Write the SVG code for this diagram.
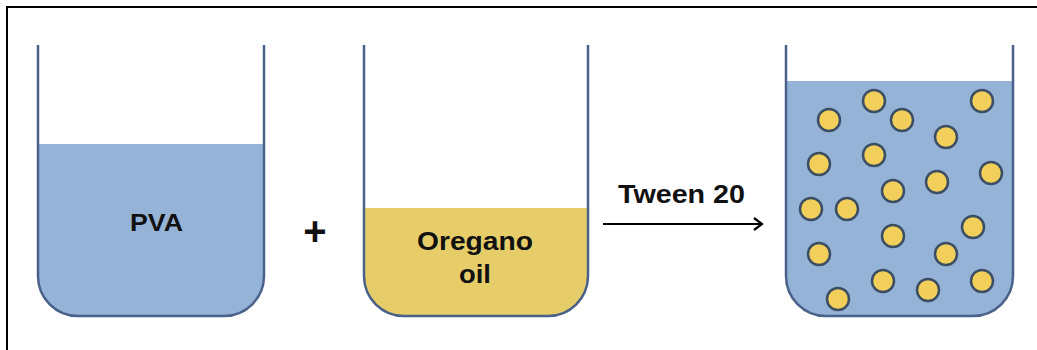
<svg xmlns="http://www.w3.org/2000/svg" width="1037" height="350" viewBox="0 0 1037 350">
<defs>
<style>
.wall{fill:none;stroke:#4a6189;stroke-width:2.5}
.blue{fill:#95b3d7}
.oil{fill:#e6cd6a}
.lbl{font-family:"Liberation Sans",Arial,sans-serif;font-weight:bold;fill:#111}
.drop{fill:#f2cf5b;stroke:#3b4e63;stroke-width:2.5}
</style>
<marker id="arr" viewBox="0 0 12 14" refX="10" refY="7" markerWidth="12" markerHeight="14" markerUnits="userSpaceOnUse" orient="auto">
<path d="M2,1 L10,7 L2,13" fill="none" stroke="#000" stroke-width="2.2"/>
</marker>
</defs>
<rect width="1037" height="350" fill="#fff"/>
<path d="M7,350 V7 H1037" fill="none" stroke="#000" stroke-width="2"/>

<g id="beaker-pva">
<path class="blue" d="M38,144 H264 V276 A40,40 0 0 1 224,316 H78 A40,40 0 0 1 38,276 Z"/>
<path class="wall" d="M38,45 V276 A40,40 0 0 0 78,316 H224 A40,40 0 0 0 264,276 V45"/>
<text class="lbl" x="130" y="231" font-size="24" textLength="53" lengthAdjust="spacingAndGlyphs">PVA</text>
</g>

<g id="plus">
<text class="lbl" x="315" y="245" font-size="40" text-anchor="middle">+</text>
</g>

<g id="beaker-oil">
<path class="oil" d="M364,208 H588 V276 A40,40 0 0 1 548,316 H404 A40,40 0 0 1 364,276 Z"/>
<path class="wall" d="M364,45 V276 A40,40 0 0 0 404,316 H548 A40,40 0 0 0 588,276 V45"/>
<text class="lbl" x="417" y="250" font-size="25" textLength="116" lengthAdjust="spacingAndGlyphs">Oregano</text>
<text class="lbl" x="459" y="283" font-size="25" textLength="32" lengthAdjust="spacingAndGlyphs">oil</text>
</g>

<g id="connectors">
<line x1="603" y1="224" x2="762" y2="224" stroke="#000" stroke-width="2.2" marker-end="url(#arr)"/>
<text class="lbl" x="618" y="203" font-size="25" textLength="127" lengthAdjust="spacingAndGlyphs">Tween 20</text>
</g>

<g id="beaker-emulsion">
<path class="blue" d="M786,81 H1013 V276 A40,40 0 0 1 973,316 H826 A40,40 0 0 1 786,276 Z"/>
<path class="wall" d="M786,45 V276 A40,40 0 0 0 826,316 H973 A40,40 0 0 0 1013,276 V45"/>
<g>
<circle class="drop" cx="874" cy="101" r="11"/>
<circle class="drop" cx="982" cy="101" r="11"/>
<circle class="drop" cx="829" cy="120" r="11"/>
<circle class="drop" cx="902" cy="120" r="11"/>
<circle class="drop" cx="946" cy="137" r="11"/>
<circle class="drop" cx="819" cy="164" r="11"/>
<circle class="drop" cx="874" cy="155" r="11"/>
<circle class="drop" cx="991" cy="173" r="11"/>
<circle class="drop" cx="937" cy="182" r="11"/>
<circle class="drop" cx="893" cy="191" r="11"/>
<circle class="drop" cx="811" cy="209" r="11"/>
<circle class="drop" cx="847" cy="209" r="11"/>
<circle class="drop" cx="973" cy="227" r="11"/>
<circle class="drop" cx="893" cy="236" r="11"/>
<circle class="drop" cx="819" cy="254" r="11"/>
<circle class="drop" cx="946" cy="254" r="11"/>
<circle class="drop" cx="883" cy="281" r="11"/>
<circle class="drop" cx="982" cy="281" r="11"/>
<circle class="drop" cx="928" cy="290" r="11"/>
<circle class="drop" cx="838" cy="299" r="11"/>
</g>
</g>
</svg>
